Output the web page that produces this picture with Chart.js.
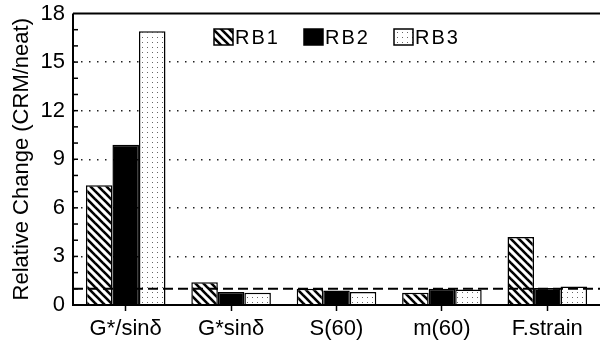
<!DOCTYPE html>
<html>
<head>
<meta charset="utf-8">
<script src="https://cdn.jsdelivr.net/npm/chart.js@4/dist/chart.umd.min.js"></script>
<style>
  body { margin: 0; background: #fff; }
  #wrap { width: 600px; height: 343px; }
</style>
</head>
<body>
<div id="wrap"><canvas id="myChart"></canvas></div>
<script>
var categories = ["G*/sinδ", "G*sinδ", "S(60)", "m(60)", "F.strain"];
var seriesNames = ["RB1", "RB2", "RB3"];
var rb1 = [7.4, 1.4, 1.0, 0.75, 4.2];
var rb2 = [9.9, 0.8, 0.9, 1.0, 1.05];
var rb3 = [16.9, 0.75, 0.8, 0.95, 1.15];
var yTicks = [0, 3, 6, 9, 12, 15, 18];
var refLine = 1;

var fontFam = "'Liberation Sans', Arial, sans-serif";

// hatch pattern, lines going down to the right
function makeHatch() {
    var c = document.createElement("canvas");
    c.width = 8; c.height = 8;
    var g = c.getContext("2d");
    g.fillStyle = "#fff";
    g.fillRect(0, 0, 8, 8);
    g.strokeStyle = "#000";
    g.lineWidth = 2.6;
    [-8, 0, 8].forEach(function(k) {
        g.beginPath();
        g.moveTo(-1, -1 + k);
        g.lineTo(9, 9 + k);
        g.stroke();
    });
    return g.createPattern(c, "repeat");
}

// light dotted pattern
function makeDots() {
    var c = document.createElement("canvas");
    c.width = 5; c.height = 5;
    var g = c.getContext("2d");
    g.fillStyle = "#fff";
    g.fillRect(0, 0, 5, 5);
    g.fillStyle = "#666";
    g.fillRect(2, 2, 1, 1);
    return g.createPattern(c, "repeat");
}

var fills = [makeHatch(), "#000", makeDots()];

var boxPlugin = {
    id: "boxPlugin",
    afterDatasetsDraw: function(chart) {
        var ctx = chart.ctx;
        var area = chart.chartArea;
        var y = chart.scales.y;
        ctx.save();
        ctx.strokeStyle = "#000";
        // axis lines
        ctx.lineWidth = 2;
        ctx.beginPath();
        ctx.moveTo(area.left, area.top);
        ctx.lineTo(chart.width, area.top);
        ctx.moveTo(area.left, area.top);
        ctx.lineTo(area.left, area.bottom);
        ctx.lineTo(chart.width, area.bottom);
        ctx.stroke();
        // minor ticks inside the left axis
        ctx.lineWidth = 1.5;
        for (var v = 1; v < 18; v++) {
            var py = y.getPixelForValue(v);
            ctx.beginPath();
            ctx.moveTo(area.left, py);
            ctx.lineTo(area.left + 5, py);
            ctx.stroke();
        }
        // reference line at 1
        var ry = y.getPixelForValue(refLine);
        ctx.lineWidth = 2;
        ctx.setLineDash([10, 5]);
        ctx.beginPath();
        ctx.moveTo(area.left, ry);
        ctx.lineTo(area.right, ry);
        ctx.stroke();
        ctx.setLineDash([]);
        // legend inside the plot
        var lx = [214, 304, 394];
        ctx.font = "20px " + fontFam;
        ctx.letterSpacing = "2px";
        ctx.textBaseline = "middle";
        chart.data.datasets.forEach(function(ds, i) {
            ctx.fillStyle = ds.backgroundColor;
            ctx.fillRect(lx[i], 29, 19, 16);
            ctx.lineWidth = 1.5;
            ctx.strokeRect(lx[i], 29, 19, 16);
            ctx.fillStyle = "#000";
            ctx.fillText(ds.label, lx[i] + 21, 38);
        });
        ctx.restore();
    }
};

var ctx = document.getElementById("myChart").getContext("2d");
var myChart = new Chart(ctx, {
    type: "bar",
    data: {
        labels: categories,
        datasets: [
            { label: seriesNames[0], data: rb1, backgroundColor: fills[0] },
            { label: seriesNames[1], data: rb2, backgroundColor: fills[1] },
            { label: seriesNames[2], data: rb3, backgroundColor: fills[2] }
        ]
    },
    options: {
        responsive: true,
        maintainAspectRatio: false,
        animation: false,
        datasets: {
            bar: {
                borderColor: "#000",
                borderWidth: 1.5,
                barPercentage: 1,
                categoryPercentage: 0.755
            }
        },
        layout: { padding: { left: 0, right: -10, top: 13, bottom: -4 } },
        plugins: {
            legend: { display: false },
            tooltip: { enabled: false }
        },
        scales: {
            x: {
                grid: {
                    offset: false,
                    drawOnChartArea: false,
                    tickLength: 6,
                    tickColor: "#000",
                    tickWidth: 1.5
                },
                border: { display: false },
                ticks: {
                    color: "#000",
                    padding: 7,
                    maxRotation: 0,
                    font: { family: fontFam, size: 22, lineHeight: 1 }
                }
            },
            y: {
                min: 0,
                max: 18,
                afterBuildTicks: function(scale) {
                    scale.ticks = yTicks.map(function(v) { return { value: v }; });
                },
                afterFit: function(scale) { scale.width = 73; },
                grid: {
                    drawTicks: false,
                    color: function(c) {
                        var v = c.tick ? c.tick.value : 0;
                        return (v === 0 || v === 18) ? "rgba(0,0,0,0)" : "#222";
                    },
                    lineWidth: 1.5
                },
                border: { display: false, dash: [1.5, 6.5] },
                ticks: {
                    color: "#000",
                    padding: 8,
                    font: { family: fontFam, size: 22, lineHeight: 0.5 }
                },
                title: {
                    display: true,
                    text: "Relative Change (CRM/neat)",
                    color: "#000",
                    padding: { top: 9, bottom: 0 },
                    font: { family: fontFam, size: 22 }
                }
            }
        }
    },
    plugins: [boxPlugin]
});
</script>
</body>
</html>
